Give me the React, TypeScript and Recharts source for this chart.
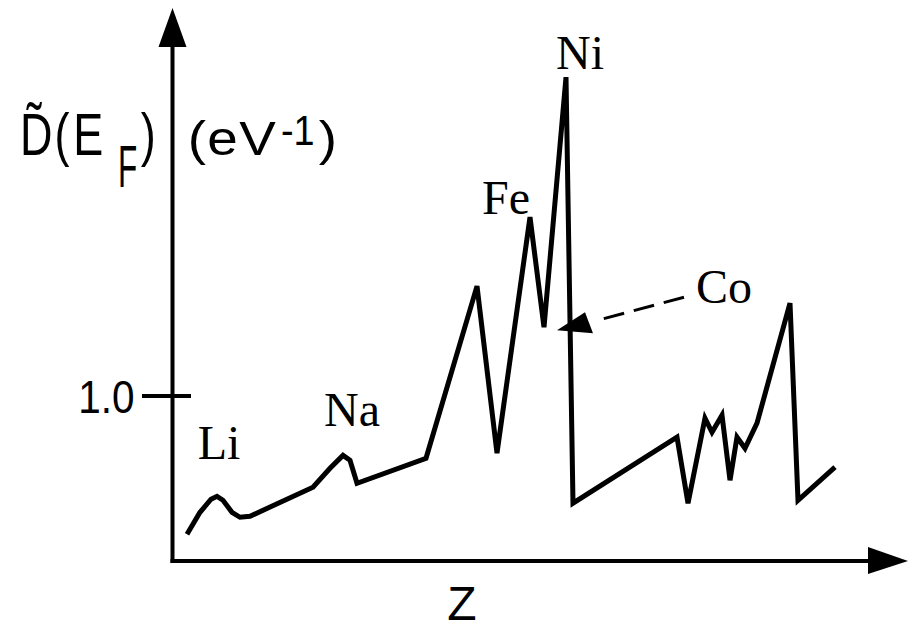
import { LineChart, Line, XAxis, YAxis, ReferenceLine, ReferenceDot } from 'recharts'

// Z position (arbitrary units along the axis) and reduced DOS at E_F
const zValues = [
  1.45, 2.75, 3.85, 4.45, 5.05, 5.95, 6.75, 7.75, 14.05, 15.75, 17.05, 17.75, 18.45,
  25.35, 30.45, 32.45, 35.75, 37.15, 39.35, 40.05, 50.45, 51.55, 53.25, 53.95, 54.95,
  55.75, 56.45, 57.25, 58.45, 61.75, 62.55, 66.25,
]
const dosValues = [
  0.162, 0.295, 0.374, 0.392, 0.368, 0.295, 0.265, 0.271, 0.447, 0.562, 0.64, 0.61, 0.471,
  0.622, 1.665, 0.653, 2.083, 1.416, 2.931, 0.35, 0.75, 0.35, 0.865, 0.78, 0.883,
  0.489, 0.75, 0.683, 0.835, 1.562, 0.368, 0.568,
]

const elementNames = ['Li', 'Na', 'Fe', 'Ni', 'Co']
const elementZ = [4.65, 17.95, 33.35, 40.75, 55.15]
const elementDos = [0.616, 0.816, 2.101, 2.98, 1.562]

const yTicks = [1.0]
const zMax = 73.55
const dosMax = 3.35

// dashed pointer from the Co label to the Ni drop
const coPointerFrom = { z: 51.15, dos: 1.598 }
const coPointerTo = { z: 42.55, dos: 1.459 }
const coPointerTip = { z: 38.45, dos: 1.398 }

const data = zValues.map((z, i) => ({ z, dos: dosValues[i] }))

const sans = 'Liberation Sans, Arial, sans-serif'
const serif = 'Liberation Serif, Times New Roman, serif'

function YTitle({ cx, cy }: { cx: number; cy: number }) {
  return (
    <g transform={`translate(${cx},${cy})`} fill="#000" fontFamily={sans}>
      <g transform="scale(0.75,1)" fontSize={60}>
        <text x={-4}>{'D\u0303'}</text>
        <text x={42}>(</text>
        <text x={67}>E</text>
        <text x={157}>)</text>
      </g>
      <text transform="translate(95,32) scale(0.525,1)" fontSize={60}>F</text>
      <g transform="scale(1.12,1)" fontSize={49}>
        <text x={147}>(</text>
        <text x={164.5}>e</text>
        <text x={193}>V</text>
        <text x={264}>)</text>
      </g>
      <text transform="translate(258,-10) scale(0.9,1)" fontSize={42}>-1</text>
    </g>
  )
}

export default function App() {
  return (
    <div style={{ position: 'absolute', left: 0, top: 0, background: '#fff' }}>
      <LineChart
        width={918}
        height={631}
        data={data}
        margin={{ top: 8, right: 10, bottom: 40, left: 132.5 }}
      >
        <XAxis
          dataKey="z"
          type="number"
          domain={[0, zMax]}
          tick={false}
          tickLine={false}
          axisLine={false}
          height={30}
        />
        <YAxis
          type="number"
          domain={[0, dosMax]}
          ticks={yTicks}
          width={40}
          tickSize={0}
          tickMargin={38}
          axisLine={false}
          tick={({ x, y, payload }: any) => (
            <text
              transform={`translate(${x},${y + 17}) scale(0.88,1)`}
              textAnchor="end"
              fontSize={46}
              fontFamily={sans}
              fill="#000"
            >
              {Number(payload.value).toFixed(1)}
            </text>
          )}
        />
        {/* axes drawn as lines so they meet cleanly with the arrowheads */}
        <ReferenceLine
          segment={[{ x: 0, y: -0.012 }, { x: 0, y: dosMax - 0.15 }]}
          stroke="#000"
          strokeWidth={4}
          ifOverflow="visible"
        />
        <ReferenceLine
          segment={[{ x: -0.2, y: 0 }, { x: zMax - 3, y: 0 }]}
          stroke="#000"
          strokeWidth={4}
          ifOverflow="visible"
        />
        <ReferenceLine
          segment={[{ x: -3.05, y: 1 }, { x: 1.85, y: 1 }]}
          stroke="#000"
          strokeWidth={4}
          ifOverflow="visible"
        />
        <Line
          type="linear"
          dataKey="dos"
          stroke="#000"
          strokeWidth={5}
          dot={false}
          activeDot={false}
          isAnimationActive={false}
        />
        <ReferenceLine
          segment={[
            { x: coPointerFrom.z, y: coPointerFrom.dos },
            { x: coPointerTo.z, y: coPointerTo.dos },
          ]}
          stroke="#000"
          strokeWidth={3}
          strokeDasharray="21 10"
          ifOverflow="visible"
        />
        <ReferenceDot
          x={coPointerTip.z}
          y={coPointerTip.dos}
          ifOverflow="visible"
          shape={({ cx, cy }: any) => (
            <polygon points={`${cx},${cy} ${cx + 28},${cy - 18} ${cx + 36},${cy + 3}`} fill="#000" />
          )}
        />
        {/* axis arrowheads */}
        <ReferenceDot
          x={0}
          y={dosMax}
          ifOverflow="visible"
          shape={({ cx, cy }: any) => (
            <polygon points={`${cx},${cy} ${cx - 14},${cy + 39} ${cx + 14},${cy + 39}`} fill="#000" />
          )}
        />
        <ReferenceDot
          x={zMax}
          y={0}
          ifOverflow="visible"
          shape={({ cx, cy }: any) => (
            <polygon points={`${cx},${cy} ${cx - 40},${cy - 14} ${cx - 40},${cy + 13}`} fill="#000" />
          )}
        />
        {elementNames.map((name, i) => (
          <ReferenceDot
            key={name}
            x={elementZ[i]}
            y={elementDos[i]}
            ifOverflow="visible"
            shape={({ cx, cy }: any) => (
              <text x={cx} y={cy} textAnchor="middle" fontSize={48} fontFamily={serif} fill="#000">
                {name}
              </text>
            )}
          />
        ))}
        <ReferenceDot
          x={28.95}
          y={-0.36}
          ifOverflow="visible"
          shape={({ cx, cy }: any) => (
            <text x={cx} y={cy} textAnchor="middle" fontSize={48} fontFamily={sans} fill="#000">
              Z
            </text>
          )}
        />
        <ReferenceDot
          x={-14.95}
          y={2.459}
          ifOverflow="visible"
          shape={({ cx, cy }: any) => <YTitle cx={cx} cy={cy} />}
        />
      </LineChart>
    </div>
  )
}
